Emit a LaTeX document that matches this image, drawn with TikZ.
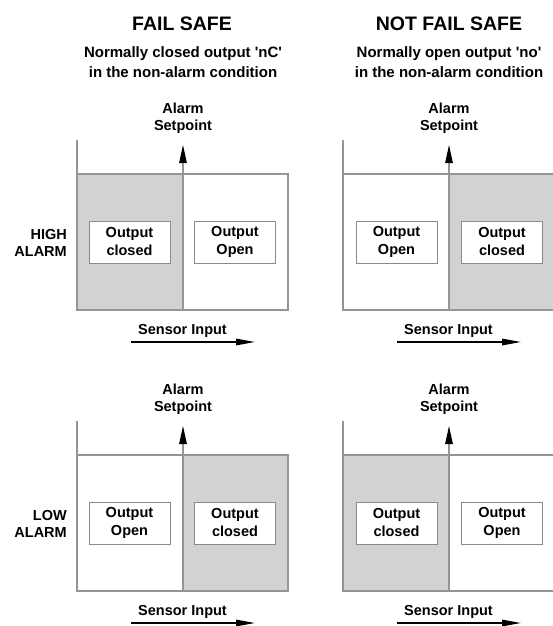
\documentclass[tikz,border=0pt]{standalone}
\usepackage{fontspec}
\setmainfont{Liberation Sans}[Ligatures=TeXOff]
\usetikzlibrary{arrows.meta}
\definecolor{shadegray}{HTML}{D2D2D2}
\definecolor{edge}{HTML}{959595}
\definecolor{inner}{HTML}{8A8A8A}
\tikzset{
  lbl/.style={font=\fontsize{14.5}{17}\selectfont\bfseries, align=center, inner sep=0pt},
  ttl/.style={font=\fontsize{19.5}{22}\selectfont\bfseries, inner sep=0pt},
  sub/.style={font=\fontsize{15}{20}\selectfont\bfseries, align=center, inner sep=0pt},
  outbox/.style={draw=inner, line width=0.9pt, fill=white, minimum width=81pt, minimum height=42pt, align=center, font=\fontsize{14.5}{18}\selectfont\bfseries, inner sep=0pt},
  frame/.style={draw=edge, line width=1.1pt},
  setarrow/.style={draw=edge, line width=1.1pt, -{Triangle[length=18pt,width=7.5pt,color=black]}},
  senarrow/.style={line width=1.5pt, -{Triangle[length=19pt,width=6.5pt]}}
}
\newcommand\alarmpanel[4]{% #1 xshift, #2 yshift, #3 name prefix, #4 shaded side (L/R)
\begin{scope}[shift={(#1,#2)}, name prefix=#3]
  \coordinate (ul) at (77,140);
  \coordinate (tl) at (77,174);
  \coordinate (bl) at (77,310);
  \coordinate (br) at (288,310);
  \coordinate (tr) at (288,174);
  \coordinate (db) at (183,310);
  \coordinate (dt) at (183,174);
  \coordinate (tip) at (183,145);
  \ifx L#4
    \fill[shadegray] (tl) rectangle (db);
  \else
    \fill[shadegray] (dt) rectangle (br);
  \fi
  \draw[frame] (ul) -- (bl) -- (br) -- (tr) -- (tl);
  \draw[frame] (db) -- (dt);
  \draw[setarrow] (dt) -- (tip);
  \node[lbl] (sp) at (183,118.5) {Alarm\\Setpoint};
  \node[lbl] (si) at (182.5,331) {Sensor Input};
  \coordinate (s0) at (131,342);
  \coordinate (s1) at (255,342);
  \draw[senarrow] (s0) -- (s1);
\end{scope}}
\begin{document}
\begin{tikzpicture}[x=1pt,y=-1pt]
\useasboundingbox (0,0) rectangle (552,626);
\fill[white] (0,0) rectangle (552,626);
\node[ttl] (fs) at (182,24) {FAIL SAFE};
\node[ttl] (nfs) at (449,24) {NOT FAIL SAFE};
\node[sub] (fss) at (183,62) {Normally closed output 'nC'\\in the non-alarm condition};
\node[sub] (nfss) at (449,62) {Normally open output 'no'\\in the non-alarm condition};

\alarmpanel{0}{0}{a-}{L}
\alarmpanel{266}{0}{b-}{R}
\alarmpanel{0}{281}{c-}{R}
\alarmpanel{266}{281}{d-}{L}

\node[lbl, align=right, anchor=east] (hi) at (67,242.5) {HIGH\\ALARM};
\node[lbl, align=right, anchor=east] (lo) at (67,523.5) {LOW\\ALARM};

\node[outbox] (o1) at (129.5,242) {Output\\closed};
\node[outbox] (o2) at (235,242) {Output\\Open};
\node[outbox] (o3) at (396.5,242) {Output\\Open};
\node[outbox] (o4) at (502,242) {Output\\closed};
\node[outbox] (o5) at (129.5,523) {Output\\Open};
\node[outbox] (o6) at (235,523) {Output\\closed};
\node[outbox] (o7) at (396.5,523) {Output\\closed};
\node[outbox] (o8) at (502,523) {Output\\Open};
\end{tikzpicture}
\end{document}
